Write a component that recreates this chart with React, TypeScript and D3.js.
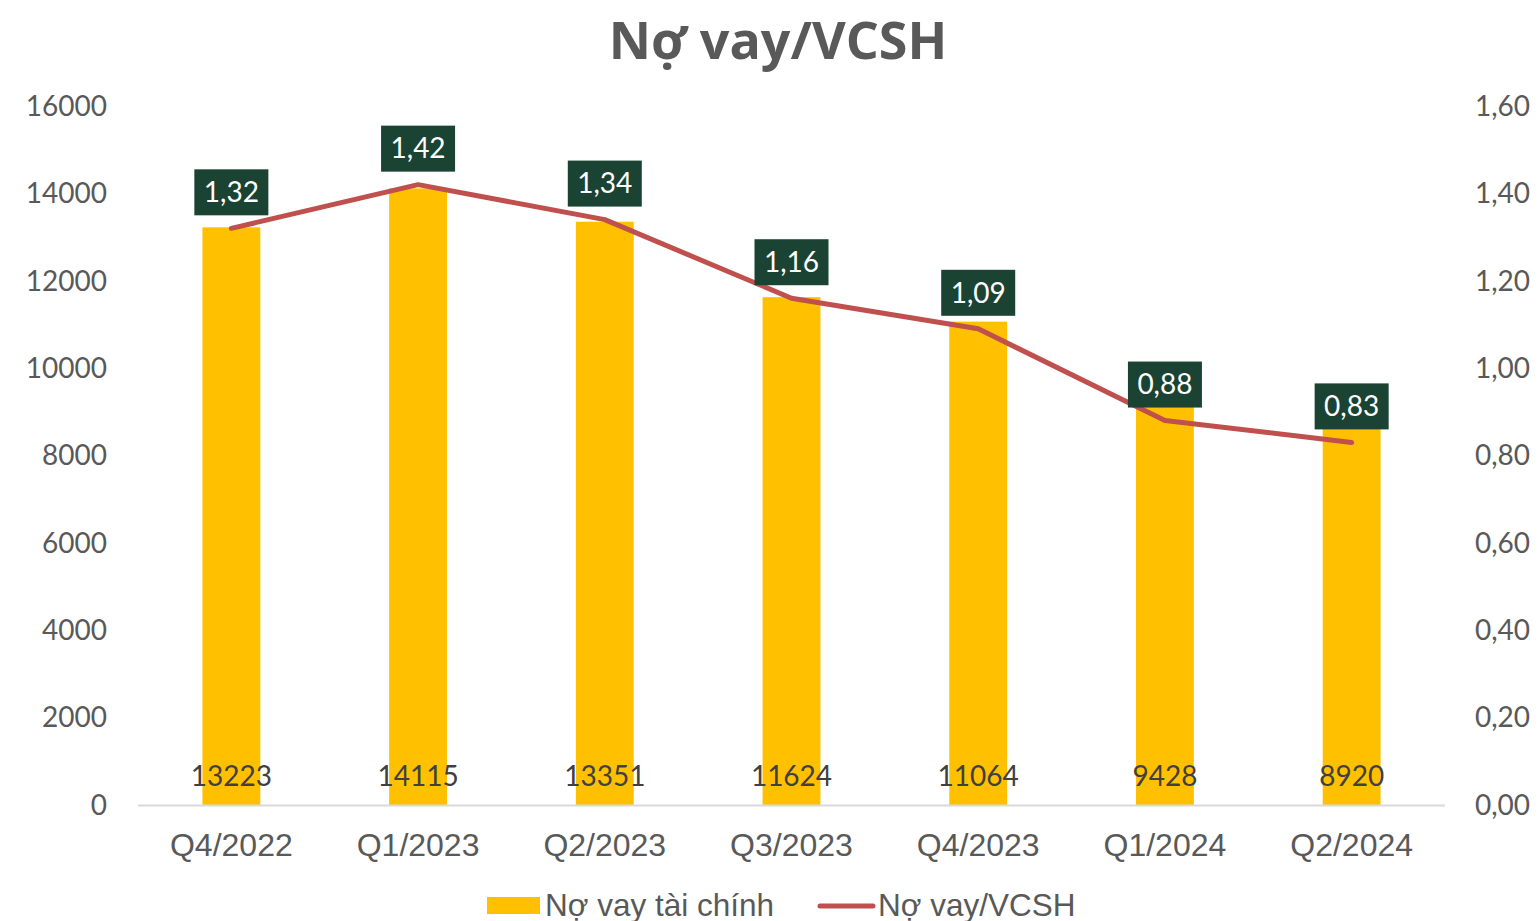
import React from "react";
import * as d3 from "d3";

const categories = ["Q4/2022", "Q1/2023", "Q2/2023", "Q3/2023", "Q4/2023", "Q1/2024", "Q2/2024"];
const debtValues = [13223, 14115, 13351, 11624, 11064, 9428, 8920];
const ratioValues = [1.32, 1.42, 1.34, 1.16, 1.09, 0.88, 0.83];
const leftTicks = [0, 2000, 4000, 6000, 8000, 10000, 12000, 14000, 16000];
const rightTicks = [0, 0.2, 0.4, 0.6, 0.8, 1.0, 1.2, 1.4, 1.6];
const title = "Nợ vay/VCSH";
const legendBar = "Nợ vay tài chính";
const legendLine = "Nợ vay/VCSH";

const W = 1538, H = 921;
const left = 138, right = 1445, top = 106, bottom = 805;

const fmt = (v: number, d: number) => v.toFixed(d).replace(".", ",");

export default function App() {
  const x = d3.scaleBand<string>().domain(categories).range([left, right]).paddingInner(0.69).paddingOuter(0.345);
  const yL = d3.scaleLinear().domain([0, 16000]).range([bottom, top]);
  const yR = d3.scaleLinear().domain([0, 1.6]).range([bottom, top]);
  const cx = (c: string) => (x(c) as number) + x.bandwidth() / 2;
  const line = d3.line<number>().x((_, i) => cx(categories[i])).y((d) => yR(d));
  const calibri = "Lato, 'Open Sans', sans-serif";
  const arial = "'Liberation Sans', Arial, sans-serif";

  return (
    <svg width={W} height={H} style={{ position: "absolute", left: 0, top: 0, background: "#fff" }}>
      <rect width={W} height={H} fill="#fff" />
      <text x={778} y={59} textAnchor="middle" fontFamily="'Open Sans', 'Noto Sans', sans-serif" fontWeight={700} fontSize={52} fill="#595959">{title}</text>
      {leftTicks.map((t) => (
        <text key={"l" + t} x={107} y={yL(t)} dy="0.35em" textAnchor="end" fontFamily={calibri} fontSize={28} fill="#595959">{t}</text>
      ))}
      {rightTicks.map((t) => (
        <text key={"r" + t} x={1475} y={yR(t)} dy="0.35em" textAnchor="start" fontFamily={calibri} fontSize={28} fill="#595959">{fmt(t, 2)}</text>
      ))}
      {categories.map((c, i) => (
        <rect key={"b" + c} x={x(c)} y={yL(debtValues[i])} width={x.bandwidth()} height={bottom - yL(debtValues[i])} fill="#FFC000" />
      ))}
      <line x1={left} x2={right} y1={bottom + 0.5} y2={bottom + 0.5} stroke="#d9d9d9" strokeWidth={2} />
      {categories.map((c, i) => (
        <text key={"v" + c} x={cx(c)} y={776} dy="0.35em" textAnchor="middle" fontFamily={calibri} fontSize={28} fill="#404040">{debtValues[i]}</text>
      ))}
      {categories.map((c) => (
        <text key={"c" + c} x={cx(c)} y={845} dy="0.35em" textAnchor="middle" fontFamily={arial} fontSize={32} fill="#595959">{c}</text>
      ))}
      <path d={line(ratioValues) || ""} fill="none" stroke="#C0504D" strokeWidth={5} strokeLinecap="round" strokeLinejoin="round" />
      {categories.map((c, i) => {
        const py = yR(ratioValues[i]);
        const cy = py - 36;
        return (
          <g key={"lab" + c}>
            <rect x={cx(c) - 37} y={cy - 23} width={74} height={46} fill="#1A4333" />
            <text x={cx(c)} y={cy} dy="0.35em" textAnchor="middle" fontFamily={calibri} fontSize={28} fill="#fff">{fmt(ratioValues[i], 2)}</text>
          </g>
        );
      })}
      <rect x={487} y={897} width={53} height={17} fill="#FFC000" />
      <text x={545} y={905} dy="0.35em" fontFamily={arial} fontSize={31.5} fill="#595959">{legendBar}</text>
      <line x1={820} x2={873} y1={906} y2={906} stroke="#C0504D" strokeWidth={5} strokeLinecap="round" />
      <text x={878} y={905} dy="0.35em" fontFamily={arial} fontSize={31.5} fill="#595959">{legendLine}</text>
    </svg>
  );
}
